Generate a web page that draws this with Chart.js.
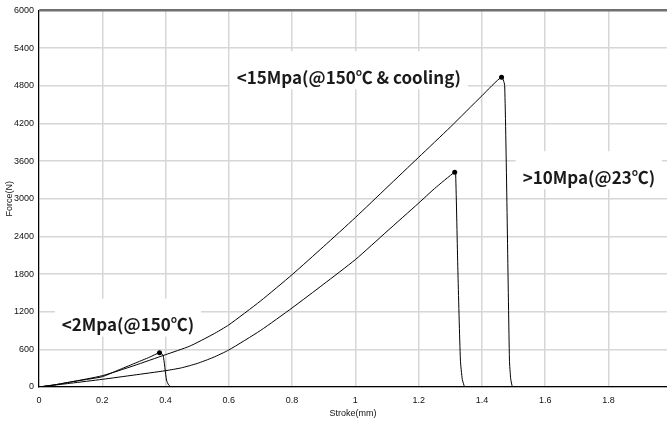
<!DOCTYPE html>
<html>
<head>
<meta charset="utf-8">
<script src="https://cdn.jsdelivr.net/npm/chart.js@4/dist/chart.umd.min.js"></script>
<style>
  html, body { margin: 0; padding: 0; background: #fff; }
  #wrap { width: 667px; height: 421px; position: relative; }
</style>
</head>
<body>
<div id="wrap"><canvas id="forceChart"></canvas></div>
<script>
// stroke (mm) / force (N)
const strokeA = [0, 0.05, 0.1, 0.15, 0.2, 0.25, 0.3, 0.35, 0.381, 0.392, 0.403, 0.41, 0.418];
const forceA  = [0, 35, 80, 120, 164, 268, 372, 476, 546, 509, 111, 30, 0];

const strokeB = [0, 0.05, 0.1, 0.2, 0.3, 0.4, 0.45, 0.5, 0.55, 0.6, 0.7, 0.8, 0.9, 1.0, 1.1, 1.2, 1.25, 1.314, 1.317, 1.324, 1.332, 1.338, 1.345];
const forceB  = [0, 30, 60, 122, 190, 260, 305, 375, 470, 590, 900, 1260, 1640, 2030, 2480, 2930, 3160, 3423, 3390, 1860, 430, 120, 0];

const strokeC = [0, 0.05, 0.1, 0.2, 0.3, 0.4, 0.476, 0.55, 0.6, 0.7, 0.8, 0.9, 1.0, 1.1, 1.2, 1.3, 1.4, 1.462, 1.472, 1.487, 1.491, 1.496];
const forceC  = [0, 35, 80, 180, 340, 515, 650, 840, 990, 1370, 1790, 2240, 2700, 3180, 3660, 4140, 4640, 4935, 4800, 430, 130, 0];

const xTicks = [0, 0.2, 0.4, 0.6, 0.8, 1, 1.2, 1.4, 1.6, 1.8];
const yTicks = [0, 600, 1200, 1800, 2400, 3000, 3600, 4200, 4800, 5400, 6000];

// annotation texts with left-x / middle-y anchors in data units
const noteTexts = ['<2Mpa(@150\u2103)', '<15Mpa(@150\u2103 & cooling)', '>10Mpa(@23\u2103)'];
const noteX = [0.072, 0.625, 1.529];
const noteY = [995, 4935, 3343];

function toPoints(xs, ys) { return xs.map((x, i) => ({ x: x, y: ys[i] })); }
function peakRadius(ys) { const m = Math.max(...ys); return ys.map(v => v === m ? 2.5 : 0); }

const noteFont = "bold 17px 'Noto Sans CJK KR', 'Noto Sans', sans-serif";

const notesPlugin = {
    id: 'notes',
    beforeDatasetsDraw(chart) {
        const { ctx, scales: { x, y } } = chart;
        ctx.save();
        ctx.font = noteFont;
        ctx.textBaseline = 'middle';
        noteTexts.forEach((t, i) => {
            const px = x.getPixelForValue(noteX[i]);
            const py = y.getPixelForValue(noteY[i]);
            const w = ctx.measureText(t).width;
            ctx.fillStyle = '#ffffff';
            ctx.fillRect(px - 7, py - 26, w + 14, 38);
            ctx.fillStyle = '#1a1a1a';
            ctx.fillText(t, px, py);
        });
        ctx.restore();
    }
};

const tickFont = { family: "'Liberation Sans Narrow', 'Liberation Sans', sans-serif", size: 9 };

const chartData = {
    datasets: [
        { label: 'A', data: toPoints(strokeA, forceA), pointRadius: peakRadius(forceA) },
        { label: 'B', data: toPoints(strokeB, forceB), pointRadius: peakRadius(forceB) },
        { label: 'C', data: toPoints(strokeC, forceC), pointRadius: peakRadius(forceC) }
    ].map(d => Object.assign(d, {
        borderColor: '#000', backgroundColor: '#000', borderWidth: 1,
        pointBorderWidth: 0, tension: 0.2, fill: false
    }))
};

const chartOptions = {
    responsive: true, maintainAspectRatio: false, animation: false,
    layout: { padding: { top: 10, right: 0, bottom: 0, left: 0 } },
    plugins: { legend: { display: false }, tooltip: { enabled: false } },
    scales: {
        x: {
            type: 'linear', min: 0, max: 1.985,
            afterBuildTicks: s => { s.ticks = xTicks.map(v => ({ value: v })); },
            afterFit: s => { s.height = 34; },
            ticks: { color: '#111', font: tickFont, padding: 8, maxRotation: 0, callback: v => String(v) },
            grid: { color: '#d6d6d6', lineWidth: 1.5, drawTicks: false },
            border: { color: '#000', width: 1.2 },
            title: { display: true, text: 'Stroke(mm)', color: '#111', font: tickFont, padding: { top: 0, bottom: 2 } }
        },
        y: {
            type: 'linear', min: 0, max: 6000,
            afterBuildTicks: s => { s.ticks = yTicks.map(v => ({ value: v })); },
            afterFit: s => { s.width = 39; },
            ticks: { color: '#111', font: tickFont, padding: 5, callback: v => String(v) },
            grid: {
                drawTicks: false,
                color: c => c.tick && c.tick.value === 6000 ? '#707070' : '#d6d6d6',
                lineWidth: c => c.tick && c.tick.value === 6000 ? 2.5 : 1.5
            },
            border: { color: '#000', width: 1.2 },
            title: { display: true, text: 'Force(N)', color: '#111', font: tickFont, padding: { top: 4.5, bottom: 0 } }
        }
    }
};

try { new Chart(document.getElementById('forceChart'), { type: 'line', data: chartData, options: chartOptions, plugins: [notesPlugin] }); }
catch (error) { console.error('Error initializing chart:', error); }
</script>
</body>
</html>
